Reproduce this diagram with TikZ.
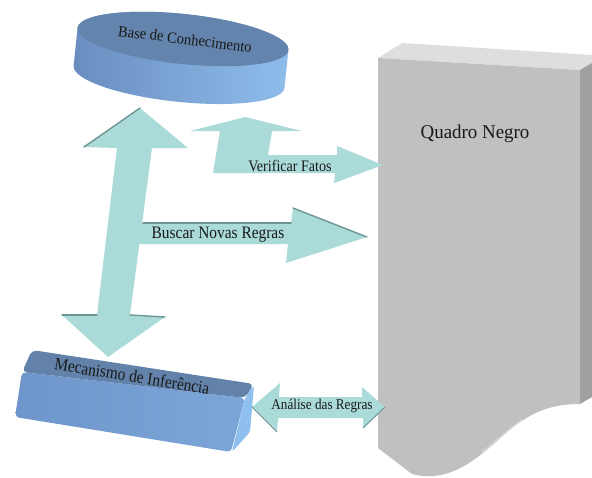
\documentclass[tikz,border=0pt]{standalone}
\usepackage{fontspec}
\setmainfont{Liberation Serif}
\definecolor{tealA}{RGB}{170,219,216}
\definecolor{tealD}{RGB}{108,150,148}
\definecolor{boardtop}{RGB}{222,222,222}
\definecolor{boardfront}{RGB}{192,192,192}
\definecolor{boardside}{RGB}{160,160,160}
\definecolor{basetop}{RGB}{99,132,172}
\definecolor{baseL}{RGB}{106,141,192}
\definecolor{baseR}{RGB}{143,189,235}
\definecolor{mectop}{RGB}{98,130,170}
\definecolor{mecL}{RGB}{110,150,202}
\definecolor{mecR}{RGB}{124,165,216}
\definecolor{mecside}{RGB}{143,191,239}
\definecolor{txt}{RGB}{25,25,25}
\begin{document}
\begin{tikzpicture}[x=1pt,y=1pt,
  blockarrow/.style={fill=tealA, draw=none},
  arrowedge/.style={draw=tealD, line width=1.4pt, line cap=round},
  lbl/.style={inner sep=0pt, text=txt},
  narrow/.style={xscale=0.88},
]
\useasboundingbox (0,0) rectangle (592,-477);

% ---- Quadro Negro: the blackboard block ----
\fill[boardtop] (378,-58) -- (402,-43) -- (592,-55) -- (592,-63) -- (580,-70) -- cycle;
\fill[boardside] (580,-70) -- (592,-63) -- (592,-397) -- (580,-404) -- cycle;
\fill[boardfront] (378,-58) -- (580,-70) -- (580,-404)
  .. controls (548,-404) and (528,-414) .. (505,-434)
  .. controls (478,-458) and (450,-484) .. (412,-474) -- (378,-448) -- cycle;
\draw[white, opacity=0.5, line width=0.8pt] (482,-452) .. controls (495,-442) and (505,-432) .. (522,-420);
\node[lbl, font=\fontsize{19.5}{22}\selectfont, xscale=0.97] (quadro) at (475,-134) {Quadro Negro};

% ---- Base de Conhecimento: tilted cylinder ----
\begin{scope}[shift={(183,-39)}, rotate=-6]
  \shade[left color=baseL, right color=baseR]
    (-106,0) -- (-106,-38) arc[start angle=180, end angle=360, x radius=106, y radius=25]
    -- (106,0) arc[start angle=0, end angle=180, x radius=106, y radius=25] -- cycle;
  \fill[basetop] (0,0) ellipse[x radius=106, y radius=25];
\end{scope}
\node[lbl, font=\fontsize{15.5}{18}\selectfont, rotate=-7, xscale=0.94] (base) at (185,-39) {Base de Conhecimento};

% ---- Mecanismo de Inferencia: tilted rounded box ----
\fill[mecside, rounded corners=3] (245,-398) -- (254,-385) -- (250,-432) -- (232,-452) -- cycle;
\shade[left color=mecL, right color=mecR, rounded corners=4]
  (22,-372) -- (245,-398) -- (231,-452) -- (15,-417) -- cycle;
\fill[mectop, rounded corners=5] (32,-350) -- (254,-384) -- (245,-398) -- (22,-372) -- cycle;
\node[lbl, font=\fontsize{17.5}{20}\selectfont, rotate=-9, narrow] (mecanismo) at (132,-376) {Mecanismo de Inferência};

% ---- vertical double arrow between the base and the engine ----
\coordinate (upTip) at (140,-108);
\coordinate (downTip) at (108,-357);
\fill[blockarrow] (upTip) -- (188,-148) -- (152,-148) -- (130,-315) -- (165,-317)
  -- (downTip) -- (62,-315) -- (97,-315) -- (117,-148) -- (83,-147) -- cycle;
\draw[arrowedge] (84,-147) -- (upTip);
\draw[arrowedge] (62,-315) -- (97,-315);
\draw[arrowedge] (130,-315) -- (165,-317);

% ---- Buscar Novas Regras ----
\coordinate (buscarTip) at (367,-237);
\fill[blockarrow] (142,-223) -- (291,-223) -- (293,-208) -- (buscarTip) -- (286,-263)
  -- (288,-244) -- (139,-244) -- cycle;
\draw[arrowedge] (143,-223) -- (291,-223);
\draw[arrowedge] (293,-208) -- (buscarTip);
\node[lbl, font=\fontsize{17.5}{20}\selectfont, narrow] (buscar) at (218,-235) {Buscar Novas Regras};

% ---- Verificar Fatos: bent arrow, up to the base and right to the board ----
\coordinate (verUpTip) at (245,-117);
\coordinate (verTip) at (383,-165);
\fill[blockarrow] (213,-173) -- (220,-131) -- (190,-131) -- (verUpTip) -- (302,-131)
  -- (272,-131) -- (268,-155) -- (337,-155) -- (337,-146) -- (verTip) -- (334,-183)
  -- (335,-173) -- cycle;
\node[lbl, font=\fontsize{16}{18}\selectfont, narrow] (verificar) at (290,-166) {Verificar Fatos};

% ---- Analise das Regras: double arrow between the engine and the board ----
\coordinate (anLeft) at (252,-407);
\coordinate (anRight) at (385,-407);
\fill[blockarrow] (anLeft) -- (280,-383) -- (279,-397) -- (362,-397) -- (362,-387)
  -- (anRight) -- (363,-428) -- (363,-418) -- (278,-418) -- (277,-432) -- cycle;
\draw[draw=tealD, line width=1pt, line cap=round] (anLeft) -- (277,-432);
\draw[draw=tealD, line width=1pt, line cap=round] (anRight) -- (363,-428);
\node[lbl, font=\fontsize{15}{17}\selectfont, narrow] (analise) at (322,-406) {Análise das Regras};
\end{tikzpicture}
\end{document}
